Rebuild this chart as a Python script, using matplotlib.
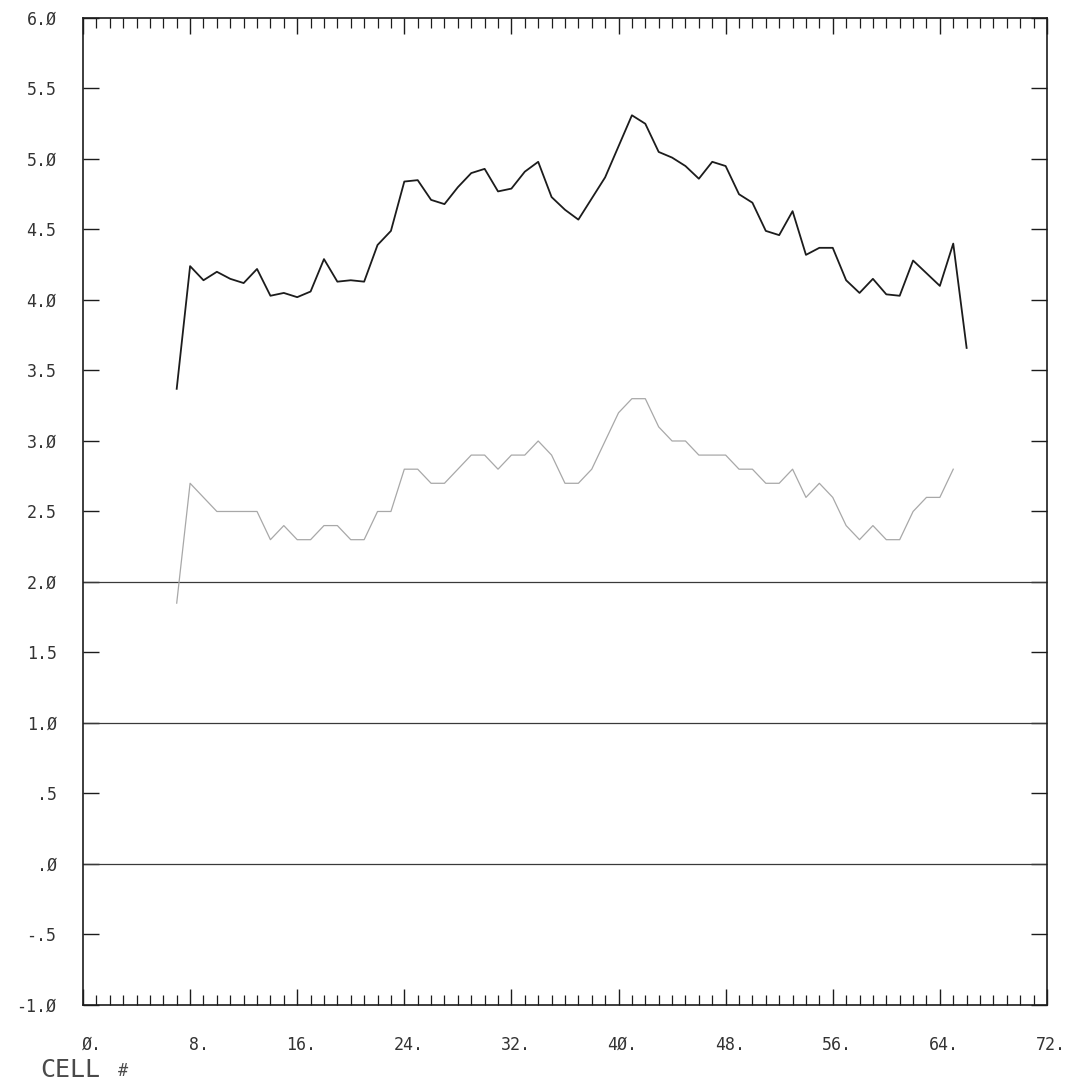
import numpy as np
import matplotlib
matplotlib.use("Agg")
import matplotlib.pyplot as plt
from matplotlib.transforms import ScaledTranslation

# Cell numbers and the two profiles measured along them
cells_upper = list(range(7, 67))
upper = [3.37, 4.24, 4.14, 4.20, 4.15, 4.12, 4.22, 4.03, 4.05, 4.02,
         4.06, 4.29, 4.13, 4.14, 4.13, 4.39, 4.49, 4.84, 4.85, 4.71,
         4.68, 4.80, 4.90, 4.93, 4.77, 4.79, 4.91, 4.98, 4.73, 4.64,
         4.57, 4.72, 4.87, 5.09, 5.31, 5.25, 5.05, 5.01, 4.95, 4.86,
         4.98, 4.95, 4.75, 4.69, 4.49, 4.46, 4.63, 4.32, 4.37, 4.37,
         4.14, 4.05, 4.15, 4.04, 4.03, 4.28, 4.19, 4.10, 4.40, 3.66]

cells_lower = list(range(7, 66))
lower = [1.85, 2.7, 2.6, 2.5, 2.5, 2.5, 2.5, 2.3, 2.4, 2.3,
         2.3, 2.4, 2.4, 2.3, 2.3, 2.5, 2.5, 2.8, 2.8, 2.7,
         2.7, 2.8, 2.9, 2.9, 2.8, 2.9, 2.9, 3.0, 2.9, 2.7,
         2.7, 2.8, 3.0, 3.2, 3.3, 3.3, 3.1, 3.0, 3.0, 2.9,
         2.9, 2.9, 2.8, 2.8, 2.7, 2.7, 2.8, 2.6, 2.7, 2.6,
         2.4, 2.3, 2.4, 2.3, 2.3, 2.5, 2.6, 2.6, 2.8]

reference_levels = [2.0, 1.0, 0.0]

x_major = [0, 8, 16, 24, 32, 40, 48, 56, 64, 72]
x_labels = ["Ø.", "8.", "16.", "24.", "32.", "4Ø.", "48.", "56.", "64.", "72."]
y_ticks = [-1.0, -0.5, 0.0, 0.5, 1.0, 1.5, 2.0, 2.5, 3.0, 3.5, 4.0, 4.5, 5.0, 5.5, 6.0]
y_labels = ["-1.Ø", "-.5", ".Ø", ".5", "1.Ø", "1.5", "2.Ø", "2.5", "3.Ø", "3.5",
            "4.Ø", "4.5", "5.Ø", "5.5", "6.Ø"]

ink = "#1c1c1c"
label_ink = "#333333"

fig = plt.figure(figsize=(10.68, 10.84), dpi=100)
ax = fig.add_axes([0.0777, 0.0729, 0.9026, 0.9105])

ax.set_xlim(0, 72)
ax.set_ylim(-1.0, 6.0)

for lvl in reference_levels:
    ax.axhline(lvl, color="#3a3a3a", lw=0.9)

ax.plot(cells_lower, lower, color="#a8a8a8", lw=0.9, solid_joinstyle="round")
ax.plot(cells_upper, upper, color=ink, lw=1.3, solid_joinstyle="round")

for s in ax.spines.values():
    s.set_color(ink)
    s.set_linewidth(1.2)

# x axis: long ticks every 8 cells, short ticks every cell, on top and bottom
ax.set_xticks(x_major)
ax.set_xticks(range(0, 73), minor=True)
ax.set_xticklabels(x_labels, family="DejaVu Sans Mono", fontsize=12, color=label_ink)
ax.tick_params(axis="x", which="major", direction="in", length=11.5, width=1.0,
               top=True, bottom=True, pad=22, color=ink)
ax.tick_params(axis="x", which="minor", direction="in", length=7.2, width=0.9,
               top=True, bottom=True, color=ink)
shift = ScaledTranslation(0.19, 0, fig.dpi_scale_trans)
for lab in ax.get_xticklabels():
    lab.set_horizontalalignment("right")
    lab.set_transform(lab.get_transform() + shift)

# y axis: ticks every half unit on both sides
ax.set_yticks(y_ticks)
ax.set_yticklabels(y_labels, family="DejaVu Sans Mono", fontsize=12, color=label_ink)
ax.tick_params(axis="y", which="major", direction="in", length=11.5, width=1.0,
               left=True, right=True, pad=19, color=ink)

fig.text(40 / 1068, 1 - 1082 / 1084, "CELL", family="DejaVu Sans Mono",
         fontsize=18, color="#4a4a4a", ha="left", va="bottom")
fig.text(118 / 1068, 1 - 1080 / 1084, "#", family="DejaVu Sans Mono",
         fontsize=12, color="#4a4a4a", ha="left", va="bottom")

fig.savefig("out.png", dpi=100, facecolor="white")
